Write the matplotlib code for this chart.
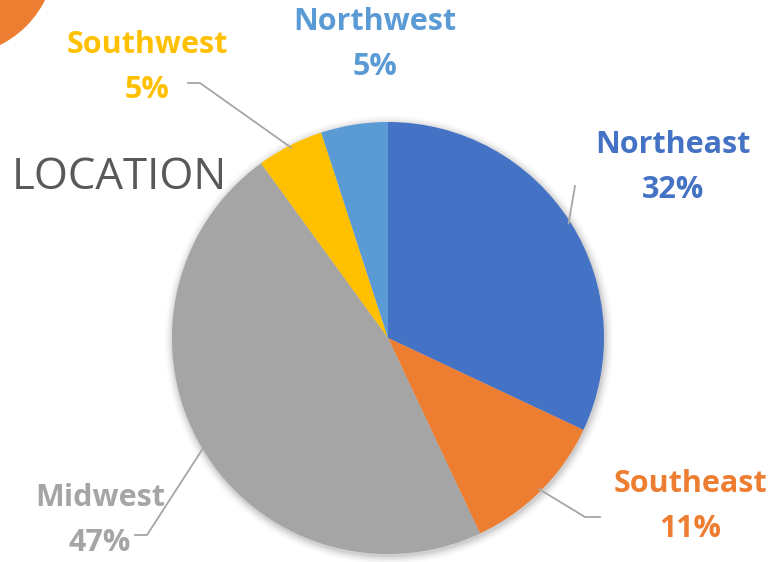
import numpy as np
import matplotlib
matplotlib.use("Agg")
import matplotlib.pyplot as plt
from matplotlib.patches import Circle

categories = ["Northeast", "Southeast", "Midwest", "Southwest", "Northwest"]
values = [32, 11, 47, 5, 5]
colors = ["#4472C4", "#ED7D31", "#A5A5A5", "#FFC000", "#5B9BD5"]
title = "LOCATION"

W, H = 773, 562
fig = plt.figure(figsize=(W / 100, H / 100), dpi=100)
ax = fig.add_axes([0, 0, 1, 1])
ax.set_xlim(0, W)
ax.set_ylim(0, H)
ax.axis("off")

cx, cy, r = 388, H - 338, 216

# decorative orange circle top-left
ax.add_patch(Circle((-45, H + 45), 100, color="#ED7D31", zorder=1))

# soft shadow
for i, a in enumerate(np.linspace(0.05, 0.01, 6)):
    ax.add_patch(Circle((cx + 1, cy - 2), r + 1 + i * 1.5, color="black", alpha=a, lw=0, zorder=1))

wedges, _ = ax.pie(values, colors=colors, startangle=90, counterclock=False,
                   center=(cx, cy), radius=r, frame=True,
                   wedgeprops=dict(linewidth=0, zorder=2))
ax.set_xlim(0, W)
ax.set_ylim(0, H)
ax.axis("off")

font = "Open Sans"
label_pos = {
    "Northeast": (673, 145),
    "Southeast": (690, 484),
    "Midwest": (100, 498),
    "Southwest": (147, 45),
    "Northwest": (375, 22),
}
leader = {
    "Northeast": [(575, 186)],
    "Southeast": [(585, 517), (600, 517)],
    "Midwest": [(147, 535), (135, 535)],
    "Southwest": [(200, 83), (188, 83)],
    "Northwest": None,
}
for cat, val, col, w in zip(categories, values, colors, wedges):
    lx, ly = label_pos[cat]
    ax.text(lx, H - ly, cat, color=col, fontsize=22, fontweight="bold",
            family=font, ha="center", va="center", zorder=5)
    ax.text(lx, H - ly - 45, f"{val}%", color=col, fontsize=22, fontweight="bold",
            family=font, ha="center", va="center", zorder=5)
    pts = leader[cat]
    if pts:
        mid = np.deg2rad((w.theta1 + w.theta2) / 2)
        px, py = cx + r * 0.99 * np.cos(mid), cy + r * 0.99 * np.sin(mid)
        xs = [px] + [p[0] for p in pts]
        ys = [py] + [H - p[1] for p in pts]
        ax.plot(xs, ys, color="#A6A6A6", lw=1.3, zorder=3)

ax.text(12, H - 178, title, color="#595959", fontsize=31.5, family=font,
        ha="left", va="center", zorder=5)

fig.savefig("out.png", dpi=100)
